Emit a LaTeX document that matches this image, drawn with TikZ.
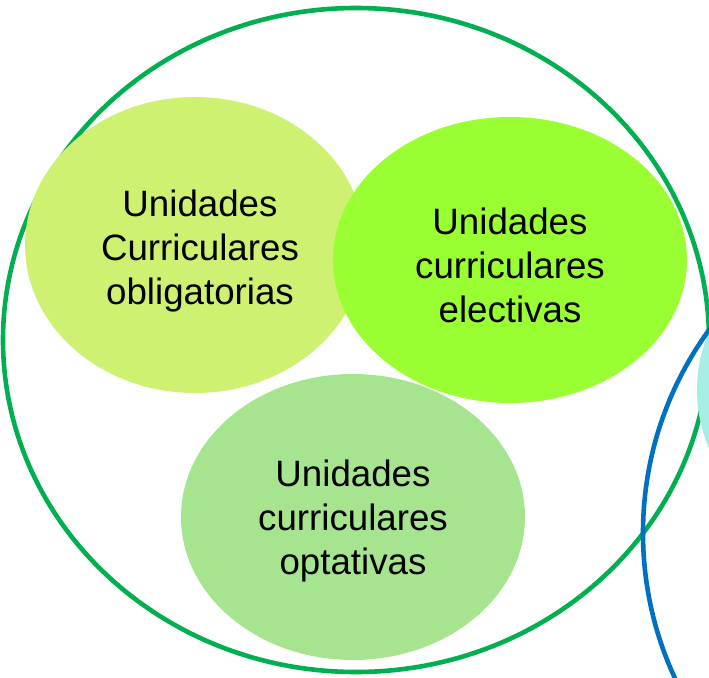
\documentclass[tikz,border=0pt]{standalone}
\usepackage{fontspec}
\setmainfont{Liberation Sans}
\definecolor{cgreen}{RGB}{0,176,80}
\definecolor{cblue}{RGB}{0,112,192}
\definecolor{cobl}{RGB}{206,241,114}
\definecolor{celec}{RGB}{153,255,51}
\definecolor{copt}{RGB}{167,228,143}
\definecolor{ccyan}{RGB}{166,237,230}
\begin{document}
\begin{tikzpicture}[x=1pt,y=-1pt,
  label/.style={align=center, font=\fontsize{36.7}{44}\selectfont, text=black}]
\useasboundingbox (0,0) rectangle (709,677);
\clip (0,0) rectangle (709,677);
\fill[white] (0,0) rectangle (709,677);
% outer circle
\draw[cgreen, line width=4.6pt] (356,340) ellipse [x radius=353, y radius=332];
% cyan shape at the right
\fill[ccyan] (843,390) circle [radius=146];
% blue circle
\draw[cblue, line width=4.6pt] (988,533) circle [radius=345];
% ellipses
\fill[cobl] (195,245) ellipse [x radius=170, y radius=148];
\fill[celec] (510,260) ellipse [x radius=177, y radius=143];
\fill[copt] (353,517) ellipse [x radius=172, y radius=143];
% texts
\node[label] (obl) at (200,251) {Unidades\\Curriculares\\obligatorias};
\node[label] (ele) at (510,265) {Unidades\\curriculares\\electivas};
\node[label] (opt) at (353,521) {Unidades\\curriculares\\optativas};
\end{tikzpicture}
\end{document}
